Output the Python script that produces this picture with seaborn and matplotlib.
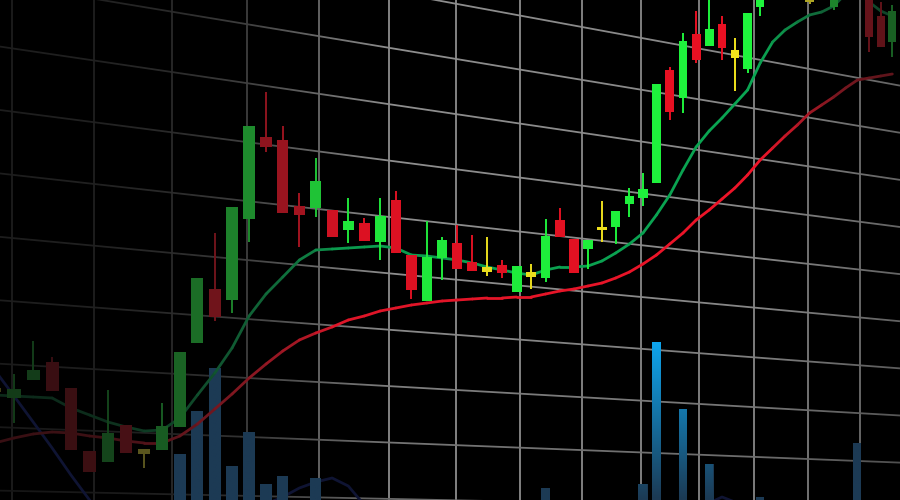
import numpy as np
import seaborn as sns
import matplotlib.pyplot as plt
from matplotlib.collections import LineCollection
from matplotlib.colors import to_rgb

# Candles, in price units (0 = bottom edge of the frame)
opens = [108, 102, 120, 138, 112, 49, 38, 75, 46, 50,
         73, 157, 211, 200, 281, 363, 360, 294, 292, 290,
         270, 277, 258, 300, 245, 199, 242, 257, 238, 228,
         235, 208, 223, 222, 280, 261, 251, 270, 273, 296,
         302, 317, 430, 402, 466, 454, 476, 442, 431, 493,
         505, 540, 520, 498, 550, 493, 515, 548, 520, 484, 458]
closes = [112, 111, 130, 109, 50, 28, 67, 47, 51, 74,
          148, 222, 183, 293, 374, 353, 287, 285, 319, 263,
          279, 259, 284, 247, 210, 243, 260, 231, 229, 233,
          227, 234, 228, 264, 263, 227, 260, 273, 289, 304,
          311, 416, 388, 459, 440, 471, 452, 450, 487, 520,
          535, 515, 555, 503, 520, 525, 545, 512, 463, 453, 489]
highs = [118, 126, 159, 143, 112, 49, 110, 75, 51, 97,
         148, 222, 267, 293, 374, 408, 374, 307, 342, 290,
         302, 282, 302, 309, 245, 279, 263, 275, 265, 263,
         240, 234, 236, 281, 292, 261, 260, 299, 289, 312,
         327, 416, 433, 467, 489, 505, 484, 462, 487, 525,
         545, 548, 560, 515, 556, 530, 552, 555, 525, 498, 495]
lows = [102, 77, 120, 109, 50, 28, 38, 47, 32, 50,
        73, 157, 179, 187, 258, 348, 287, 253, 283, 263,
        257, 259, 240, 247, 201, 199, 220, 231, 229, 224,
        222, 208, 211, 218, 263, 227, 231, 258, 256, 283,
        294, 317, 380, 387, 437, 454, 440, 409, 427, 484,
        500, 510, 512, 496, 514, 490, 508, 505, 448, 453, 443]
# u = up, d = down, n = doji
kinds = ["n", "u", "u", "d", "d", "d", "u", "d", "n", "u",
         "u", "u", "d", "u", "u", "d", "d", "d", "u", "d",
         "u", "d", "u", "d", "d", "u", "u", "d", "d", "n",
         "d", "u", "n", "u", "d", "d", "u", "n", "u", "u",
         "u", "u", "d", "u", "d", "u", "d", "n", "u", "u",
         "u", "d", "u", "n", "d", "u", "u", "d", "d", "d", "u"]

volume = [0, 0, 0, 0, 0, 0, 0, 0, 0, 0,
          46, 89, 132, 34, 68, 16, 24, 0, 22, 0,
          0, 0, 0, 0, 0, 0, 0, 0, 0, 0,
          0, 0, 0, 12, 0, 0, 0, 0, 0, 0,
          16, 158, 0, 91, 0, 36, 0, 0, 0, 3,
          0, 0, 0, 0, 0, 0, 0, 57, 0, 0, 0]

ma_fast = [105, 104, 103, 102, 92, 85, 78, 73, 69, 70,
           82, 105, 127, 152, 184, 206, 223, 240, 250, 251,
           252, 253, 254, 252, 245, 244, 242, 240, 237, 233,
           230, 227, 225, 230, 233, 233, 234, 239, 247, 256,
           267, 285, 305, 330, 353, 369, 382, 396, 410, 437,
           458, 470, 478, 485, 488, 494, 506, 508, 498, 489, 484]
ma_slow = [57, 62, 66, 68, 67, 64, 62, 59, 57, 57,
           64, 76, 91, 106, 122, 136, 149, 160, 167, 173,
           180, 184, 189, 192, 195, 197, 199, 200, 201, 202,
           202, 203, 203, 206, 209, 211, 214, 217, 222, 228,
           236, 245, 256, 267, 280, 290, 301, 312, 325, 340,
           352, 364, 375, 387, 395, 403, 412, 420, 422, 424, 426]
oscillator = [130, 104, 78, 52, 25, 0, -25, -45, -55, -60,
              -60, -55, -45, -30, -15, -4, 3, 12, 18, 22,
              14, -5, -25, -40, -50, -55, -58, -60, -60, -60,
              -60, -58, -55, -50, -45, -40, -35, -30, -25, -20,
              -18, -16, -15, -12, -8, -3, 3, -2, -15, -30,
              -45, -55, -60, -60, -60, -60, -60, -60, -60, -60, -60]

UP, DOWN, DOJI = "#1ef53c", "#ea1022", "#f2e41c"
VOL_DARK, VOL_BRIGHT = np.array(to_rgb("#1c3a54")), np.array(to_rgb("#0ea4ec"))

sns.set_theme(style="dark", rc={"axes.facecolor": "black", "figure.facecolor": "black"})

fig = plt.figure(figsize=(9, 5), dpi=100)
ax = fig.add_axes([0, 0, 1, 1])
ax.set_facecolor("black")

# receding chart plane: later candles get squeezed together
g = 0.005
ax.set_xscale("function", functions=(lambda i: np.asarray(i) / (1 + g * np.asarray(i)),
                                     lambda u: np.asarray(u) / (1 - g * np.asarray(u))))
XLIM, YLIM = (0.2754, 60.668), (0, 500)
ax.set_xlim(*XLIM)
ax.set_ylim(*YLIM)

idx = np.arange(len(opens))
px = ax.transData.transform(np.column_stack([idx, np.zeros(len(idx))]))[:, 0]


def candle_focus(x):
    return np.interp(x, [0, 100, 180, 250, 300, 340, 760, 800, 840, 900],
                     [0.3, 0.33, 0.48, 0.64, 0.76, 0.95, 1, 0.8, 0.58, 0.45])


def grid_focus(x):
    return np.interp(x, [0, 100, 175, 250, 320, 390, 760, 900],
                     [0.2, 0.23, 0.3, 0.45, 0.75, 1.0, 0.95, 0.7])


def shade(color, f):
    return tuple(np.clip(np.array(to_rgb(color)) * f, 0, 1))


def blur_shade(color, f):
    # out of focus: darker and a little washed out
    rgb = np.array(to_rgb(color))
    w = 0.45 + 0.55 * f
    rgb = rgb * w + rgb.mean() * (1 - w)
    return tuple(np.clip(rgb * f, 0, 1))


# grid: vertical lines every ~4.33 candles, horizontals run to a vanishing point
gray = "#8e8e8e"
gx = 0.9 + 4.33 * np.arange(14)
gpx = ax.transData.transform(np.column_stack([gx, np.zeros(len(gx))]))[:, 0]
ax.vlines(gx, *YLIM, colors=[shade(gray, grid_focus(p)) for p in gpx], lw=1.3, zorder=1)

vp_x, vp_y = 3500, 565
xs = np.linspace(0, 900, 91)
for k in range(10):
    y_ref = 497 - 58 * k
    ys = y_ref + (vp_y - y_ref) * (xs - 300) / (vp_x - 300)
    pts = np.column_stack([xs / 900, 1 - ys / 500])
    segs = np.stack([pts[:-1], pts[1:]], axis=1)
    mid = (xs[:-1] + xs[1:]) / 2
    vdim = np.interp((ys[:-1] + ys[1:]) / 2, [300, 500], [1.0, 0.75])
    cols = [shade(gray, f) for f in grid_focus(mid) * vdim]
    ax.add_collection(LineCollection(segs, colors=cols, lw=1.3, transform=ax.transAxes, zorder=1))

# dark oscillator curve at the bottom
sns.lineplot(x=idx, y=oscillator, color="#0f1433", lw=2, ax=ax, zorder=1.5)

# volume with a glow that is strongest near the middle-right
bars = ax.bar(idx, volume, width=0.68, bottom=0, color=VOL_DARK,
              edgecolor="none", linewidth=0, zorder=2)
for patch, v, p in zip(bars.patches, volume, px):
    if v <= 0:
        continue
    hx = np.interp(p, [560, 630, 720, 820], [0, 1, 1, 0])
    levels = np.linspace(0, v, 60)
    t = np.clip(levels / 158, 0, 1) * hx
    img = VOL_DARK + (VOL_BRIGHT - VOL_DARK) * t[:, None]
    x0, x1 = patch.get_x(), patch.get_x() + patch.get_width()
    im = ax.imshow(img[:, None, :], origin="lower", extent=[x0, x1, 0, v],
                   aspect="auto", interpolation="bilinear", zorder=2.1)
    im.set_clip_path(patch)

# moving averages, fading out of focus at both ends
for series, base in [(ma_slow, "#ee1428"), (ma_fast, "#0aa552")]:
    pts = np.column_stack([idx, series])
    segs = np.stack([pts[:-1], pts[1:]], axis=1)
    mid = (px[:-1] + px[1:]) / 2
    cols = [blur_shade(base, f) for f in candle_focus(mid)]
    ax.add_collection(LineCollection(segs, colors=cols, lw=2.0, zorder=3, capstyle="round"))

# candles
base_cols = {"u": UP, "d": DOWN, "n": DOJI}
cols = [blur_shade(base_cols[k], f) for k, f in zip(kinds, candle_focus(px))]
o, c = np.array(opens), np.array(closes)
ax.vlines(idx, lows, highs, colors=cols, lw=1.4, zorder=4)
ax.bar(idx, np.abs(c - o), bottom=np.minimum(o, c), width=0.68, color=cols,
       edgecolor="none", linewidth=0, zorder=5)

ax.set_xlim(*XLIM)
ax.set_ylim(*YLIM)
ax.set_axis_off()

fig.savefig("out.png", dpi=100, facecolor="black")
